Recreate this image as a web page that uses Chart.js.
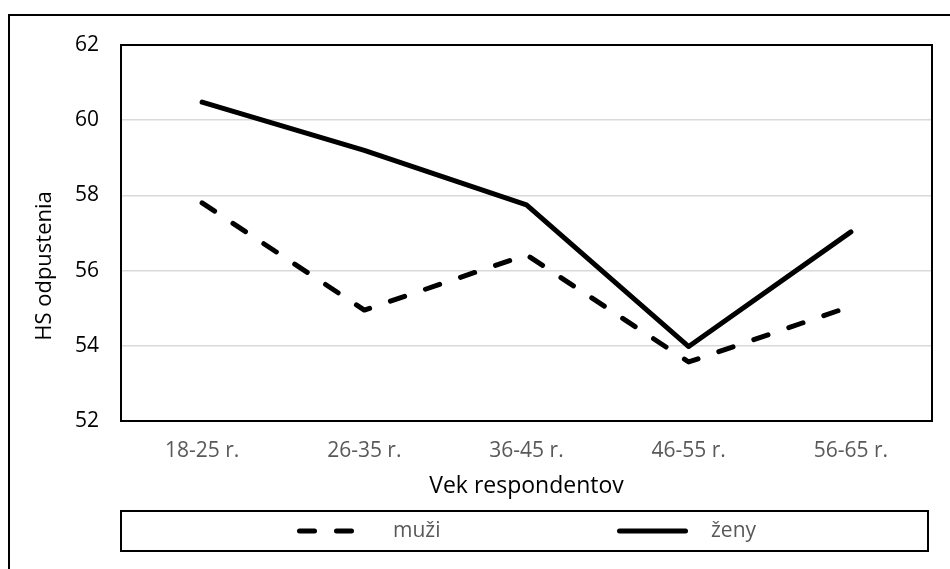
<!DOCTYPE html>
<html>
<head>
<meta charset="utf-8">
<script src="https://cdn.jsdelivr.net/npm/chart.js@4/dist/chart.umd.min.js"></script>
<style>
  html, body { margin: 0; padding: 0; background: #ffffff; }
  #wrap { width: 950px; height: 569px; position: relative; }
</style>
</head>
<body>
<div id="wrap"><canvas id="c" width="950" height="569"></canvas></div>
<script>
// Age groups and mean scores
const categories = ['18-25 r.', '26-35 r.', '36-45 r.', '46-55 r.', '56-65 r.'];
const muzi = [57.8, 54.95, 56.42, 53.57, 55.05];
const zeny = [60.48, 59.2, 57.75, 53.98, 57.03];
const yTicks = [52, 54, 56, 58, 60, 62];

const FONT = '"Open Sans", "Noto Sans", sans-serif';

// Frame, plot border, y-axis title and boxed legend
const decorations = {
  id: 'decorations',
  afterDraw(chart) {
    const ctx = chart.ctx;
    const a = chart.chartArea;
    ctx.save();
    // outer frame
    ctx.strokeStyle = '#000';
    ctx.lineWidth = 2;
    ctx.strokeRect(9, 15, 1000, 1000);
    // plot area border
    ctx.strokeRect(a.left, a.top, a.right - a.left, a.bottom - a.top);

    // y-axis title
    ctx.fillStyle = '#000';
    ctx.font = '22px ' + FONT;
    ctx.textAlign = 'center';
    ctx.textBaseline = 'middle';
    ctx.translate(45, 266);
    ctx.rotate(-Math.PI / 2);
    ctx.fillText('HS odpustenia', 0, 0);
    ctx.restore();

    // legend box
    ctx.save();
    ctx.strokeStyle = '#000';
    ctx.lineWidth = 2;
    ctx.strokeRect(a.left, 511, 928 - a.left, 40);
    const items = [
      { ds: chart.data.datasets[0], x0: 297, x1: 355, tx: 393 },
      { ds: chart.data.datasets[1], x0: 617, x1: 688, tx: 711 }
    ];
    const ly = 531;
    items.forEach(it => {
      ctx.beginPath();
      ctx.strokeStyle = it.ds.borderColor;
      ctx.lineWidth = it.ds.borderWidth;
      ctx.lineCap = 'round';
      ctx.setLineDash(it.ds.borderDash || []);
      ctx.moveTo(it.x0 + 2.5, ly);
      ctx.lineTo(it.x1 - 2.5, ly);
      ctx.stroke();
      ctx.setLineDash([]);
      ctx.fillStyle = '#595959';
      ctx.font = '21px ' + FONT;
      ctx.textAlign = 'left';
      ctx.textBaseline = 'middle';
      ctx.fillText(it.ds.label, it.tx, ly);
    });
    ctx.restore();
  }
};

new Chart(document.getElementById('c'), {
  type: 'line',
  data: {
    labels: categories,
    datasets: [
      {
        label: 'muži',
        data: muzi,
        borderColor: '#000',
        borderWidth: 5,
        borderDash: [15, 22],
        borderCapStyle: 'round',
        borderJoinStyle: 'round',
        pointRadius: 0,
        tension: 0,
        fill: false
      },
      {
        label: 'ženy',
        data: zeny,
        borderColor: '#000',
        borderWidth: 5,
        borderCapStyle: 'round',
        borderJoinStyle: 'round',
        pointRadius: 0,
        tension: 0,
        fill: false
      }
    ]
  },
  options: {
    responsive: false,
    animation: false,
    devicePixelRatio: 1,
    layout: { padding: { top: 45, right: 18, left: 0, bottom: 69 } },
    plugins: {
      legend: { display: false },
      tooltip: { enabled: false }
    },
    scales: {
      x: {
        type: 'category',
        offset: true,
        grid: { display: false, drawTicks: false },
        border: { display: false },
        ticks: { color: '#595959', font: { family: FONT, size: 21 }, padding: 17 },
        title: {
          display: true,
          text: 'Vek respondentov',
          color: '#000',
          font: { family: FONT, size: 23 },
          padding: { top: 0, bottom: 0 }
        },
        afterFit(scale) { scale.height = 79; }
      },
      y: {
        min: 52,
        max: 62,
        afterBuildTicks(scale) { scale.ticks = yTicks.map(v => ({ value: v })); },
        grid: { color: '#d9d9d9', lineWidth: 1.5, drawTicks: false },
        border: { display: false },
        ticks: { color: '#000', font: { family: FONT, size: 21 }, padding: 22 },
        afterFit(scale) { scale.width = 121; }
      }
    }
  },
  plugins: [decorations]
});
</script>
</body>
</html>
